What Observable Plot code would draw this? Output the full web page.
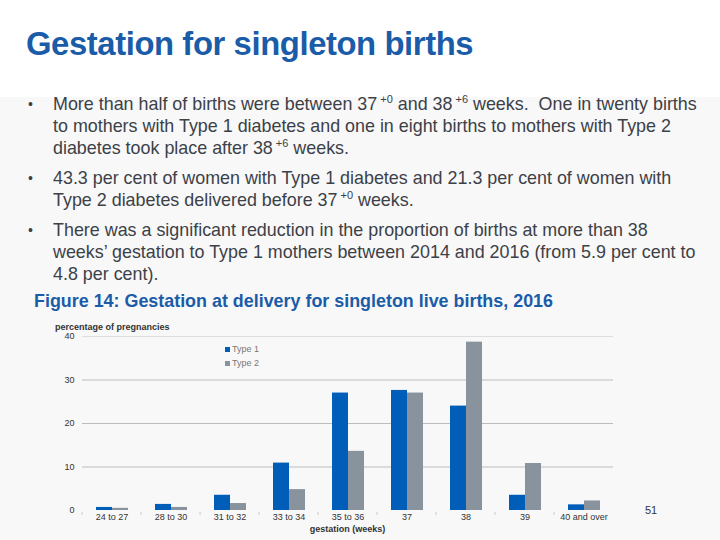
<!DOCTYPE html>
<html>
<head>
<meta charset="utf-8">
<script src="https://cdn.jsdelivr.net/npm/d3@7"></script>
<script src="https://cdn.jsdelivr.net/npm/@observablehq/plot@0.6"></script>
<style>
  html, body { margin: 0; padding: 0; }
  body { width: 720px; height: 540px; position: relative; overflow: hidden;
         background: #f8f8f8; font-family: "Liberation Sans", Arial, sans-serif; }
  .head { position: absolute; left: 0; top: 0; width: 720px; height: 97px; background: #ffffff; }
  .title { position: absolute; left: 26px; top: 25px; font-size: 32.8px; font-weight: bold;
           color: #1a5ca8; letter-spacing: -0.4px; white-space: nowrap; }
  .bullets { position: absolute; left: 0; top: 93px; color: #3c4148; font-size: 17.9px; }
  .b { position: relative; margin-bottom: 8px; line-height: 22px; white-space: nowrap; }
  .b .dot { position: absolute; left: 28px; top: 0; font-size: 14px; }
  .b .txt { margin-left: 53px; }
  sup { font-size: 11px; line-height: 0; vertical-align: 7px; margin-left: 3px; }
  .fig { position: absolute; left: 34px; top: 291px; font-size: 17.9px; font-weight: bold;
         color: #1a5ca8; white-space: nowrap; }
  #chart { position: absolute; left: 0; top: 320px; }
  .ylab { position: absolute; left: 55px; top: 322px; font-size: 9px; font-weight: bold; color: #333; }
  .xlab { position: absolute; left: 0; width: 695px; text-align: center; top: 524px;
          font-size: 9px; font-weight: bold; color: #333; }
  .legend { position: absolute; left: 225px; top: 342px; font-size: 9px; color: #777; }
  .legend div { height: 14px; display: flex; align-items: center; }
  .legend span.sw { width: 5px; height: 5px; margin-right: 2px; display: inline-block; }
  .page { position: absolute; left: 645px; top: 504px; font-size: 11px; color: #333; }
</style>
</head>
<body>
<div class="head"></div>
<div class="title">Gestation for singleton births</div>
<div class="bullets">
  <div class="b"><span class="dot">•</span><div class="txt">More than half of births were between 37<sup>+0</sup> and 38<sup>+6</sup> weeks.&nbsp; One in twenty births<br>to mothers with Type 1 diabetes and one in eight births to mothers with Type 2<br>diabetes took place after 38<sup>+6</sup> weeks.</div></div>
  <div class="b"><span class="dot">•</span><div class="txt">43.3 per cent of women with Type 1 diabetes and 21.3 per cent of women with<br>Type 2 diabetes delivered before 37<sup>+0</sup> weeks.</div></div>
  <div class="b"><span class="dot">•</span><div class="txt">There was a significant reduction in the proportion of births at more than 38<br>weeks’ gestation to Type 1 mothers between 2014 and 2016 (from 5.9 per cent to<br>4.8 per cent).</div></div>
</div>
<div class="fig">Figure 14: Gestation at delivery for singleton live births, 2016</div>
<div id="chart"></div>
<div class="ylab">percentage of pregnancies</div>
<div class="xlab">gestation (weeks)</div>
<div class="legend"></div>
<div class="page">51</div>
<script>
// Gestation bands (weeks)
const categories = ["24 to 27", "28 to 30", "31 to 32", "33 to 34", "35 to 36", "37", "38", "39", "40 and over"];
// Percentage of pregnancies by diabetes type
const type1 = [0.7, 1.4, 3.5, 10.9, 27.0, 27.6, 24.0, 3.5, 1.3];
const type2 = [0.5, 0.7, 1.6, 4.8, 13.6, 27.0, 38.7, 10.8, 2.2];
const series = ["Type 1", "Type 2"];
const colors = ["#005eb8", "#89939d"];
const yTicks = [0, 10, 20, 30, 40];

const rows = categories.flatMap((c, i) => [
  {cat: c, type: series[0], value: type1[i]},
  {cat: c, type: series[1], value: type2[i]}
]);

const W = 720, H = 215, mL = 78, mR = 103;
const step = (W - mL - mR) / categories.length;

const chart = Plot.plot({
  width: W,
  height: H,
  marginTop: 16,
  marginBottom: 25,
  marginLeft: mL,
  marginRight: mR,
  style: {background: "transparent", fontFamily: "Liberation Sans, Arial, sans-serif", fontSize: "9px", color: "#333"},
  fx: {domain: categories, padding: 0, label: null},
  x: {domain: series, paddingInner: 0, paddingOuter: 0.75, axis: null},
  y: {domain: [0, 40], label: null},
  color: {domain: series, range: colors},
  marks: [
    Plot.gridY([10, 20, 30], {stroke: "#bdbdbd", strokeOpacity: 1}),
    Plot.gridY([40], {stroke: "#dedede", strokeOpacity: 1}),
    Plot.axisY(yTicks, {tickSize: 0, tickPadding: 8, label: null, fontSize: 9, fill: "#333"}),
    Plot.axisFx({anchor: "bottom", tickSize: 0, tickPadding: 3, label: null, fontSize: 9, fill: "#333"}),
    Plot.axisFx({anchor: "bottom", tickSize: 3, dy: 2, dx: -step / 2, text: null, label: null, stroke: "#c8c8c8"}),
    Plot.barY(rows, {fx: "cat", x: "type", y: "value", fill: "type"})
  ]
});
document.getElementById("chart").appendChild(chart);

// Legend entries
const legend = document.querySelector(".legend");
series.forEach((s, i) => {
  const row = document.createElement("div");
  row.innerHTML = `<span class="sw" style="background:${colors[i]}"></span>${s}`;
  legend.appendChild(row);
});
</script>
</body>
</html>
